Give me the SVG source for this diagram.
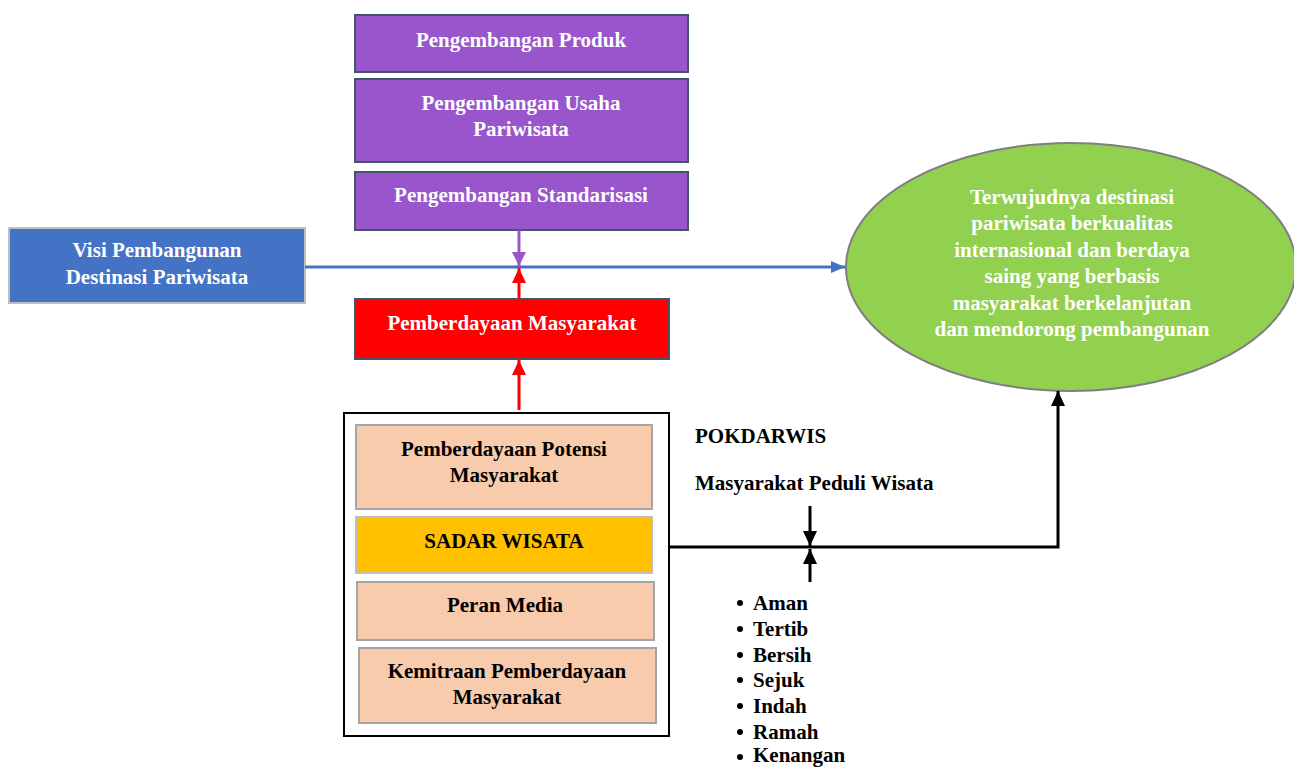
<svg xmlns="http://www.w3.org/2000/svg" width="1294" height="767" viewBox="0 0 1294 767">
<style>
text{font-family:"Liberation Serif","Times New Roman",serif;font-weight:bold;font-size:21px}
.w{fill:#fff}
.k{fill:#000}
.c{text-anchor:middle}
.purple{fill:#9955CC;stroke:#44546A;stroke-width:2}
.peach{fill:#F8CBAD;stroke:#A5A5A5;stroke-width:2}
</style>
<defs>
<marker id="aBlue" viewBox="0 0 14 12" refX="14" refY="6" markerWidth="14" markerHeight="12" markerUnits="userSpaceOnUse" orient="auto"><path d="M0,0L14,6L0,12Z" fill="#4472C4"/></marker>
<marker id="aPurple" viewBox="0 0 14 14" refX="14" refY="7" markerWidth="14" markerHeight="14" markerUnits="userSpaceOnUse" orient="auto"><path d="M0,0L14,7L0,14Z" fill="#9955CC"/></marker>
<marker id="aRed" viewBox="0 0 15 14" refX="15" refY="7" markerWidth="15" markerHeight="14" markerUnits="userSpaceOnUse" orient="auto"><path d="M0,0L15,7L0,14Z" fill="#FF0000"/></marker>
<marker id="aBlack" viewBox="0 0 15 14" refX="15" refY="7" markerWidth="15" markerHeight="14" markerUnits="userSpaceOnUse" orient="auto"><path d="M0,0L15,7L0,14Z" fill="#000"/></marker>
</defs>

<g id="n-produk"><rect class="purple" x="355" y="15" width="333" height="57"/><text class="w c" x="521" y="47">Pengembangan Produk</text></g>
<g id="n-usaha"><rect class="purple" x="355" y="79" width="333" height="83"/><text class="w c" x="521" y="110">Pengembangan Usaha</text><text class="w c" x="521" y="136">Pariwisata</text></g>
<g id="n-standar"><rect class="purple" x="355" y="172" width="333" height="58"/><text class="w c" x="521" y="202">Pengembangan Standarisasi</text></g>
<g id="n-visi"><rect x="9" y="228" width="296" height="75" fill="#4472C4" stroke="#BFBFBF" stroke-width="2"/><text class="w c" x="157" y="257">Visi Pembangunan</text><text class="w c" x="157" y="284">Destinasi Pariwisata</text></g>
<g id="n-pemberdayaan"><rect x="355" y="299" width="314" height="60" fill="#FF0000" stroke="#44546A" stroke-width="2"/><text class="w c" x="512" y="330">Pemberdayaan Masyarakat</text></g>
<g id="n-tujuan"><ellipse cx="1071" cy="267" rx="225" ry="124" fill="#92D050" stroke="#7F7F7F" stroke-width="2"/>
<text class="w c" x="1072" y="204">Terwujudnya destinasi</text>
<text class="w c" x="1072" y="230">pariwisata berkualitas</text>
<text class="w c" x="1072" y="257">internasional dan berdaya</text>
<text class="w c" x="1072" y="283">saing yang berbasis</text>
<text class="w c" x="1072" y="310">masyarakat berkelanjutan</text>
<text class="w c" x="1072" y="336">dan mendorong pembangunan</text></g>
<g id="n-group"><rect x="344" y="413" width="325" height="323" fill="#fff" stroke="#000" stroke-width="2"/>
<rect class="peach" x="356" y="425" width="296" height="84"/><text class="k c" x="504" y="456">Pemberdayaan Potensi</text><text class="k c" x="504" y="482">Masyarakat</text>
<rect x="356" y="517" width="296" height="56" fill="#FFC000" stroke="#BFBFBF" stroke-width="2"/><text class="k c" x="504" y="548">SADAR WISATA</text>
<rect class="peach" x="357" y="582" width="297" height="58"/><text class="k c" x="505" y="612">Peran Media</text>
<rect class="peach" x="359" y="648" width="297" height="75"/><text class="k c" x="507" y="678">Kemitraan Pemberdayaan</text><text class="k c" x="507" y="704">Masyarakat</text></g>
<g id="n-pokdarwis"><text class="k" x="695" y="443">POKDARWIS</text><text class="k" x="695" y="490">Masyarakat Peduli Wisata</text></g>
<g id="n-list">
<circle cx="740" cy="603" r="3"/><text class="k" x="753" y="610">Aman</text>
<circle cx="740" cy="629" r="3"/><text class="k" x="753" y="636">Tertib</text>
<circle cx="740" cy="655" r="3"/><text class="k" x="753" y="662">Bersih</text>
<circle cx="740" cy="680" r="3"/><text class="k" x="753" y="687">Sejuk</text>
<circle cx="740" cy="706" r="3"/><text class="k" x="753" y="713">Indah</text>
<circle cx="740" cy="732" r="3"/><text class="k" x="753" y="739">Ramah</text>
<circle cx="740" cy="757" r="3"/><text class="k" x="753" y="762">Kenangan</text></g>

<g id="connectors" fill="none">
<line x1="305" y1="267" x2="845" y2="267" stroke="#4472C4" stroke-width="3" marker-end="url(#aBlue)"/>
<line x1="519" y1="230" x2="519" y2="266" stroke="#9955CC" stroke-width="3" marker-end="url(#aPurple)"/>
<line x1="519" y1="299" x2="519" y2="268" stroke="#FF0000" stroke-width="3" marker-end="url(#aRed)"/>
<line x1="519" y1="410" x2="519" y2="360" stroke="#FF0000" stroke-width="3" marker-end="url(#aRed)"/>
<polyline points="669,547 1058,547 1058,391" stroke="#000" stroke-width="3" marker-end="url(#aBlack)"/>
<line x1="810" y1="506" x2="810" y2="546" stroke="#000" stroke-width="3" marker-end="url(#aBlack)"/>
<line x1="810" y1="582" x2="810" y2="549" stroke="#000" stroke-width="3" marker-end="url(#aBlack)"/>
</g>
</svg>
